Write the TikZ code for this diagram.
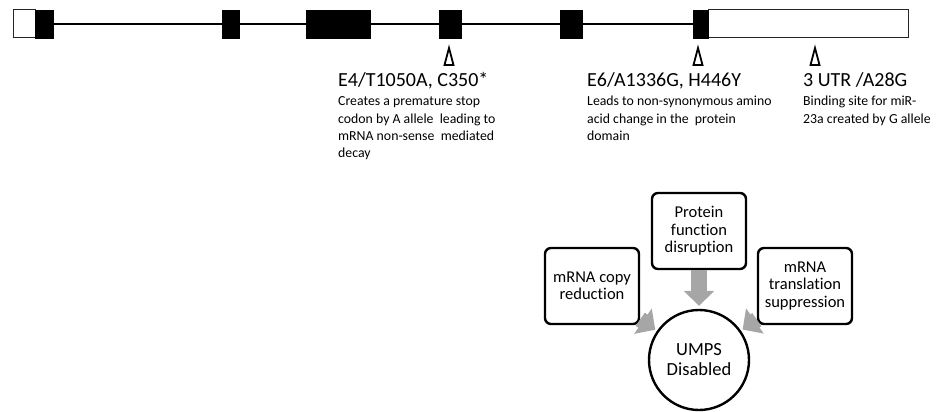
\documentclass[tikz,border=0pt]{standalone}
\usepackage{fontspec}
\setmainfont{Carlito}[Ligatures={NoCommon}]
\usetikzlibrary{arrows.meta}
\definecolor{arrowgray}{HTML}{A6A6A6}
\begin{document}
\begin{tikzpicture}[x=1pt,y=-1pt,
  exonb/.style={draw=black,fill=black,line width=0.8pt,inner sep=0pt,outer sep=0pt,minimum height=28pt},
  exonw/.style={draw=black!85,fill=white,line width=1pt,inner sep=0pt,outer sep=0pt,minimum height=28pt},
  snp/.style={draw=black,line width=1.8pt,line join=miter},
  headtxt/.style={font=\fontsize{20}{24}\selectfont,anchor=base west,inner sep=0pt},
  desctxt/.style={font=\fontsize{13.8}{17}\selectfont,anchor=base west,inner sep=0pt},
  effect/.style={draw=black,line width=2.4pt,rounded corners=6pt,fill=white,minimum width=94pt,minimum height=76pt,align=center,inner sep=2pt,font=\fontsize{16.5}{17.5}\selectfont},
  result/.style={circle,draw=black,line width=2.4pt,fill=white,minimum size=100pt,inner sep=0pt,align=center,font=\fontsize{18.5}{20}\selectfont},
  grayarrow/.style={draw=arrowgray,line width=16pt,-{Triangle[width=30pt,length=15pt]}}
]
\useasboundingbox (0,0) rectangle (943,412);
% gene structure
\coordinate (gstart) at (35,24);
\coordinate (gend) at (708,24);
\draw[line width=1.2pt] (gstart) -- (gend);
\node[exonw,minimum width=22pt] (e1u) at (24,24) {};
\node[exonb,minimum width=18pt] (e1) at (44,24) {};
\node[exonb,minimum width=17pt] (e2) at (230.5,24) {};
\node[exonb,minimum width=64pt] (e3) at (338,24) {};
\node[exonb,minimum width=22pt] (e4) at (450,24) {};
\node[exonb,minimum width=22pt] (e5) at (571,24) {};
\node[exonw,minimum width=200pt] (utr) at (808,24) {};
\node[exonb,minimum width=15pt] (e6) at (700.5,24) {};
% SNP markers
\draw[snp] (449,48) -- (453.5,65) -- (444.5,65) -- cycle;
\draw[snp] (698,48) -- (702.5,65) -- (693.5,65) -- cycle;
\draw[snp] (815,48) -- (819.5,65) -- (810.5,65) -- cycle;
% annotations
\node[headtxt] (h1) at (338,86) {E4/T1050A, C350*};
\node[desctxt] (d1a) at (338,106) {Creates a premature stop};
\node[desctxt] (d1b) at (338,123) {codon by A allele\ \ leading to};
\node[desctxt] (d1c) at (338,140) {mRNA non-sense\ \ mediated};
\node[desctxt] (d1d) at (338,157) {decay};
\node[headtxt] (h2) at (587,86) {E6/A1336G, H446Y};
\node[desctxt] (d2a) at (587,106) {Leads to non-synonymous amino};
\node[desctxt] (d2b) at (587,123) {acid change in the\ \ protein};
\node[desctxt] (d2c) at (587,140) {domain};
\node[headtxt] (h3) at (803,86) {3 UTR /A28G};
\node[desctxt] (d3a) at (803,106) {Binding site for miR-};
\node[desctxt] (d3b) at (803,123) {23a created by G allele};
% effects
\node[result] (umps) at (699,360) {UMPS\\Disabled};
\node[effect] (prot) at (699,231) {Protein\\function\\disruption};
\node[effect] (copy) at (592,286) {mRNA copy\\reduction};
\node[effect] (trans) at (805,286) {mRNA\\translation\\suppression};
\draw[grayarrow,shorten >=3pt] (prot) -- (umps);
\draw[grayarrow,shorten >=2pt] (copy) -- (umps);
\draw[grayarrow,shorten >=2pt] (trans) -- (umps);
\end{tikzpicture}
\end{document}
